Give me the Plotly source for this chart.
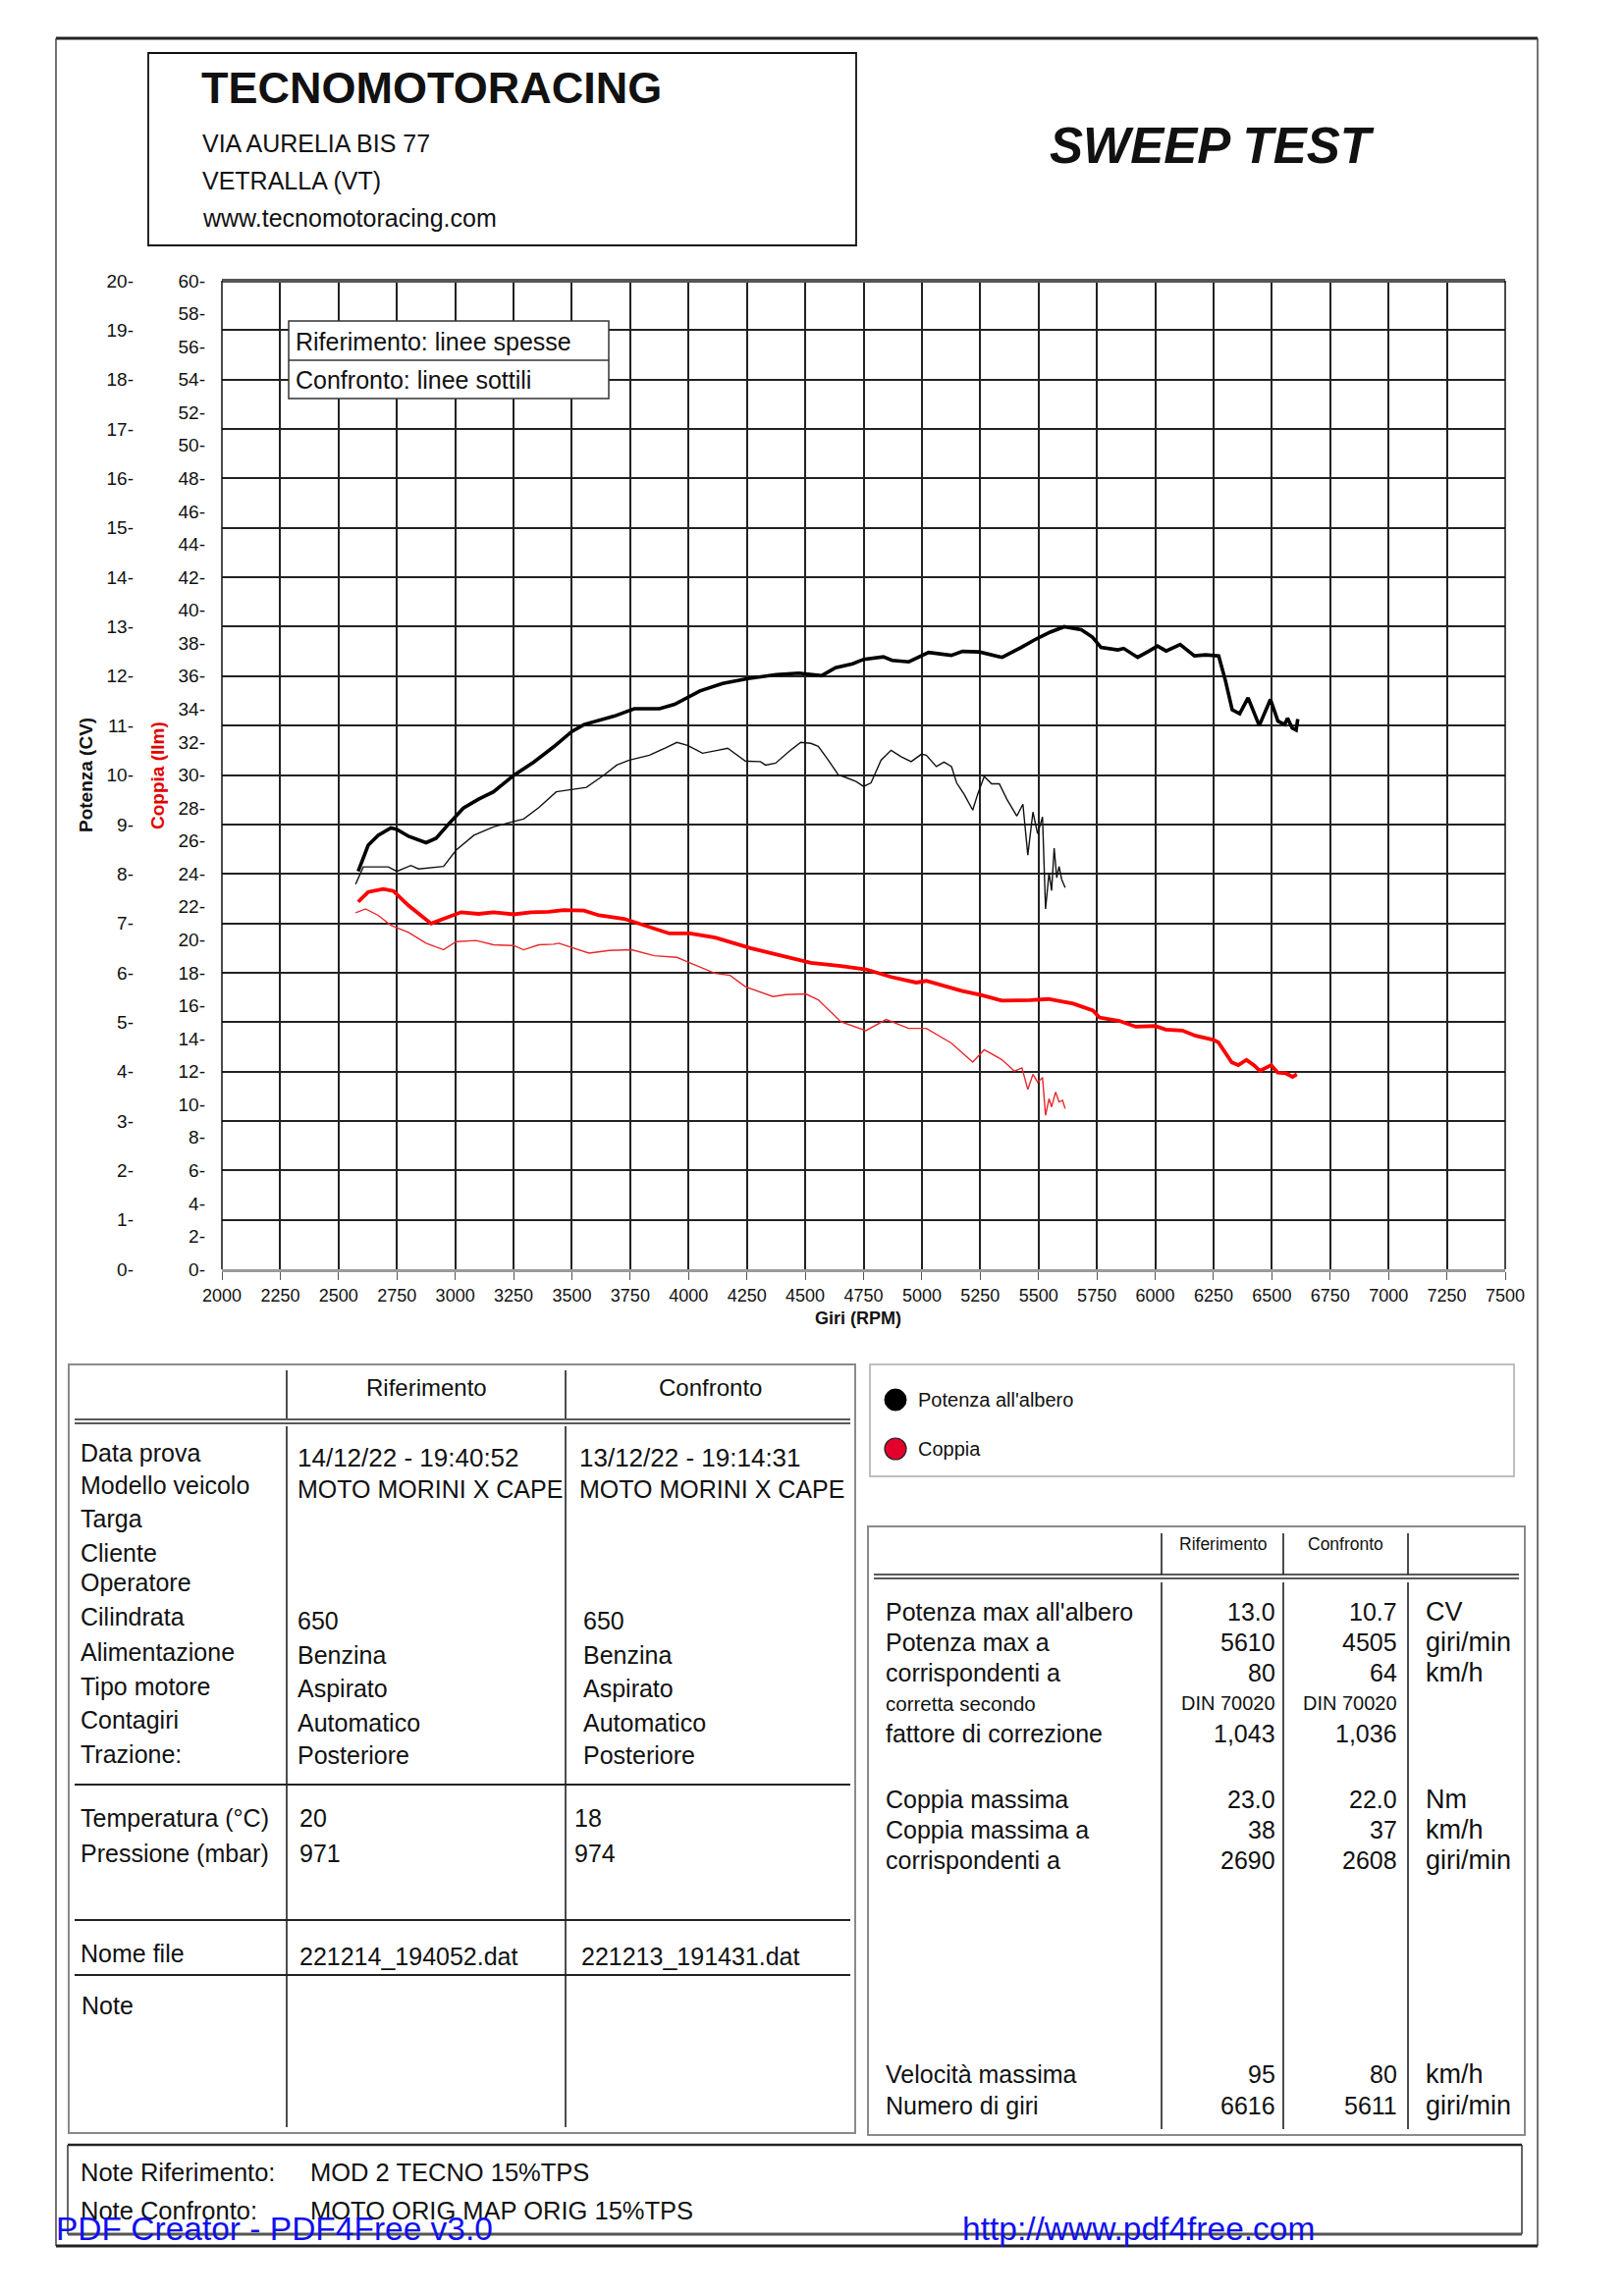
import plotly.graph_objects as go

OFF = 8  # browser body margin
W, H = 1654 - OFF, 2339 - OFF
FONT = "Liberation Sans, Arial, Helvetica, sans-serif"

# ---------------- chart data ----------------
rpm_ticks = list(range(2000, 7501, 250))
cv_ticks = list(range(0, 21))
nm_ticks = list(range(0, 61, 2))

# Riferimento (thick) - Potenza all'albero (CV)
rif_cv_rpm = [2584, 2627, 2670, 2724, 2750, 2800, 2875, 2918, 2972, 3035, 3100, 3164, 3250, 3336,
              3422, 3500, 3552, 3638, 3681, 3767, 3875, 3940, 4006, 4049, 4146, 4255, 4376, 4473,
              4570, 4630, 4703, 4751, 4835, 4872, 4944, 5029, 5126, 5174, 5247, 5344, 5429, 5489,
              5550, 5610, 5683, 5731, 5768, 5840, 5865, 5925, 5974, 6010, 6047, 6107, 6168, 6216,
              6272, 6301, 6330, 6362, 6398, 6446, 6494, 6526, 6555, 6567, 6587, 6604, 6611]
rif_cv = [8.05, 8.58, 8.78, 8.93, 8.90, 8.76, 8.63, 8.72, 9.01, 9.33, 9.51, 9.66, 9.99, 10.26,
          10.57, 10.88, 11.02, 11.13, 11.19, 11.34, 11.34, 11.43, 11.60, 11.70, 11.85, 11.95, 12.03, 12.06,
          12.01, 12.17, 12.25, 12.34, 12.39, 12.32, 12.29, 12.48, 12.42, 12.50, 12.49, 12.38, 12.59, 12.75,
          12.89, 13.00, 12.94, 12.79, 12.58, 12.53, 12.56, 12.38, 12.51, 12.61, 12.51, 12.64, 12.41, 12.43,
          12.41, 11.91, 11.32, 11.24, 11.56, 11.00, 11.53, 11.09, 11.02, 11.15, 10.95, 10.91, 11.13]

# Confronto (thin) - Potenza all'albero (CV)
conf_cv_rpm = [2573, 2606, 2713, 2750, 2810, 2843, 2950, 3004, 3080, 3164, 3250, 3293, 3358, 3433,
               3519, 3562, 3638, 3692, 3746, 3832, 3897, 3950, 3996, 4060, 4114, 4168, 4243, 4308,
               4330, 4373, 4437, 4481, 4524, 4556, 4599, 4642, 4674, 4718, 4750, 4782, 4825, 4868,
               4911, 4954, 4998, 5019, 5062, 5095, 5127, 5149, 5181, 5218, 5239, 5267, 5299, 5332,
               5364, 5407, 5433, 5454, 5476, 5496, 5517, 5530, 5545, 5556, 5567, 5578, 5588, 5599, 5614]
conf_cv = [7.79, 8.14, 8.14, 8.05, 8.17, 8.10, 8.15, 8.48, 8.78, 8.95, 9.06, 9.11, 9.34, 9.66,
           9.72, 9.75, 10.00, 10.20, 10.30, 10.40, 10.54, 10.66, 10.60, 10.44, 10.49, 10.54, 10.28, 10.27,
           10.20, 10.24, 10.50, 10.66, 10.64, 10.58, 10.30, 10.00, 9.95, 9.87, 9.77, 9.84, 10.30, 10.50,
           10.37, 10.27, 10.42, 10.40, 10.17, 10.26, 10.17, 9.84, 9.61, 9.29, 9.61, 9.97, 9.82, 9.82,
           9.51, 9.17, 9.41, 8.38, 9.25, 8.81, 9.15, 7.29, 8.02, 7.66, 8.52, 7.92, 8.15, 7.89, 7.72]

# Riferimento (thick) - Coppia
rif_nm_rpm = [2584, 2627, 2692, 2735, 2800, 2897, 2950, 3025, 3100, 3164, 3250, 3325, 3400, 3465,
              3552, 3616, 3724, 3810, 3918, 4006, 4114, 4265, 4394, 4524, 4653, 4760, 4868, 4976,
              5019, 5170, 5253, 5343, 5465, 5542, 5648, 5733, 5761, 5846, 5917, 6000, 6045, 6116,
              6173, 6250, 6271, 6328, 6356, 6391, 6426, 6448, 6497, 6525, 6560, 6589, 6607]
rif_nm = [22.30, 22.90, 23.08, 22.96, 22.07, 20.98, 21.27, 21.67, 21.57, 21.67, 21.54, 21.67, 21.70, 21.80,
          21.77, 21.48, 21.27, 20.88, 20.38, 20.38, 20.13, 19.49, 19.03, 18.60, 18.40, 18.20, 17.74, 17.40,
          17.50, 16.90, 16.65, 16.30, 16.33, 16.40, 16.12, 15.70, 15.28, 15.07, 14.72, 14.76, 14.55, 14.49,
          14.17, 13.92, 13.76, 12.56, 12.39, 12.71, 12.35, 12.04, 12.39, 11.93, 11.89, 11.68, 11.83]

# Confronto (thin) - Coppia
conf_nm_rpm = [2573, 2616, 2670, 2724, 2800, 2875, 2950, 3004, 3090, 3164, 3250, 3293, 3358, 3422,
               3444, 3508, 3573, 3660, 3756, 3853, 3950, 4006, 4114, 4178, 4243, 4362, 4416, 4502,
               4556, 4653, 4760, 4847, 4943, 5019, 5127, 5218, 5267, 5343, 5397, 5429, 5454, 5476,
               5496, 5517, 5530, 5545, 5556, 5573, 5588, 5603, 5614]
conf_nm = [21.64, 21.87, 21.48, 20.88, 20.44, 19.79, 19.39, 19.89, 19.95, 19.69, 19.65, 19.39, 19.69, 19.73,
           19.79, 19.49, 19.19, 19.35, 19.39, 19.03, 18.93, 18.60, 17.96, 17.84, 17.15, 16.55, 16.67, 16.71,
           16.35, 15.02, 14.48, 15.16, 14.62, 14.62, 13.72, 12.57, 13.32, 12.72, 12.02, 12.22, 10.91, 11.83,
           11.34, 11.64, 9.35, 10.35, 9.85, 10.75, 10.15, 10.25, 9.75]

# ---------------- table texts ----------------
header_lines = ["VIA AURELIA BIS 77", "VETRALLA (VT)", "www.tecnomotoracing.com"]
info_labels = ["Data prova", "Modello veicolo", "Targa", "Cliente", "Operatore", "Cilindrata",
               "Alimentazione", "Tipo motore", "Contagiri", "Trazione:"]
info_rif = ["14/12/22 - 19:40:52", "MOTO MORINI X CAPE", "", "", "", "650", "Benzina", "Aspirato",
            "Automatico", "Posteriore"]
info_conf = ["13/12/22 - 19:14:31", "MOTO MORINI X CAPE", "", "", "", "650", "Benzina", "Aspirato",
             "Automatico", "Posteriore"]
amb_labels = ["Temperatura (°C)", "Pressione (mbar)"]
amb_rif = ["20", "971"]
amb_conf = ["18", "974"]
file_rif = "221214_194052.dat"
file_conf = "221213_191431.dat"

perf_labels = ["Potenza max all'albero", "Potenza max a", "corrispondenti a", "corretta secondo",
               "fattore di correzione", "Coppia massima", "Coppia massima a", "corrispondenti a",
               "Velocità massima", "Numero di giri"]
perf_rif = ["13.0", "5610", "80", "DIN 70020", "1,043", "23.0", "38", "2690", "95", "6616"]
perf_conf = ["10.7", "4505", "64", "DIN 70020", "1,036", "22.0", "37", "2608", "80", "5611"]
perf_units = ["CV", "giri/min", "km/h", "", "", "Nm", "km/h", "giri/min", "km/h", "giri/min"]

note_rif = "MOD 2 TECNO 15%TPS"
note_conf = "MOTO ORIG MAP ORIG 15%TPS"

# ---------------- helpers (page pixel -> paper) ----------------
def X(px):
    return (px - OFF) / W


def Y(py):
    return 1 - (py - OFF) / H


shapes = []
annotations = []


def line(x0, y0, x1, y1, color="#111", width=1.5):
    shapes.append(dict(type="line", xref="paper", yref="paper", x0=X(x0), y0=Y(y0), x1=X(x1), y1=Y(y1),
                       line=dict(color=color, width=width), layer="above"))


def rect(x0, y0, x1, y1, color="#111", width=1.5, fill=None):
    d = dict(type="rect", xref="paper", yref="paper", x0=X(x0), y0=Y(y0), x1=X(x1), y1=Y(y1),
             line=dict(color=color, width=width), layer="above")
    if fill:
        d["fillcolor"] = fill
    shapes.append(d)


def text(x, y, s, size=24, anchor="left", color="#111", bold=False, italic=False, angle=0):
    if bold:
        s = "<b>" + s + "</b>"
    if italic:
        s = "<i>" + s + "</i>"
    annotations.append(dict(xref="paper", yref="paper", x=X(x), y=Y(y), text=s, showarrow=False,
                            xanchor=anchor, yanchor="middle", textangle=angle,
                            font=dict(family=FONT, size=size, color=color), borderpad=0))


# ---------------- traces ----------------
fig = go.Figure()
fig.add_trace(go.Scatter(x=conf_cv_rpm, y=conf_cv, mode="lines", yaxis="y",
                         line=dict(color="#111", width=1.4), showlegend=False, hoverinfo="skip"))
fig.add_trace(go.Scatter(x=rif_cv_rpm, y=rif_cv, mode="lines", yaxis="y3",
                         line=dict(color="#000", width=3.6), showlegend=False, hoverinfo="skip"))
fig.add_trace(go.Scatter(x=conf_nm_rpm, y=conf_nm, mode="lines", yaxis="y2",
                         line=dict(color="#e8272b", width=1.4), showlegend=False, hoverinfo="skip"))
fig.add_trace(go.Scatter(x=rif_nm_rpm, y=rif_nm, mode="lines", yaxis="y2",
                         line=dict(color="#ff0000", width=3.8), showlegend=False, hoverinfo="skip"))

PL, PR, PT, PB = 226, 1533, 286, 1293
ydom = [Y(PB), Y(PT)]

# ---------------- page frame & header ----------------
line(57, 39, 1566, 39, "#222", 3)
line(57, 39, 57, 2288, "#444", 1.5)
line(1566, 39, 1566, 2288, "#444", 1.5)
line(57, 2288, 1566, 2288, "#222", 3)

rect(151, 54, 872, 250, "#111", 1.8)
text(204, 89, "TECNOMOTORACING", 45, bold=True)
for i, s in enumerate(header_lines):
    text(205, [146, 184, 222][i], s, 25)
text(1068, 149, "SWEEP TEST", 51, bold=True, italic=True)

# ---------------- plot frame, legend box, titles ----------------
line(PL, PT, PR, PT, "#555", 4)
line(PL, PT, PL, PB, "#111", 1.5)
line(PR, PT, PR, PB, "#111", 1.5)

rect(294, 327, 620, 406, "#333", 1.5, fill="white")
line(294, 367, 620, 367, "#333", 1.5)
text(300, 348, "Riferimento: linee spesse", 25)
text(300, 387, "Confronto: linee sottili", 25)

text(87, 790, "Potenza (CV)", 19, anchor="center", bold=True, angle=-90)
text(160, 790, "Coppia (Ilm)", 19, anchor="center", bold=True, angle=-90, color="#e00000")
text(874, 1343, "Giri (RPM)", 18, anchor="center", bold=True)

# ---------------- left info table ----------------
rect(70, 1390, 871, 2173, "#8a8a8a", 2)
line(292, 1396, 292, 1445)
line(576, 1396, 576, 1445)
line(76, 1446, 866, 1446, "#222", 1.5)
line(76, 1450, 866, 1450, "#222", 1.5)
line(292, 1453, 292, 2167)
line(576, 1453, 576, 2167)
line(76, 1818, 866, 1818, "#222", 2)
line(76, 1956, 866, 1956, "#222", 2)
line(76, 2012, 866, 2012, "#222", 2)
text(434, 1413, "Riferimento", 24, anchor="center")
text(723, 1413, "Confronto", 24, anchor="center")

label_y = [1480, 1513, 1547, 1582, 1612, 1647, 1683, 1718, 1752, 1787]
value_y = [1485, 1517, 1549, 1584, 1616, 1651, 1686, 1720, 1755, 1788]
for i in range(len(info_labels)):
    text(81, label_y[i], info_labels[i], 25)
    sz = 26 if i == 0 else 25
    if info_rif[i]:
        text(302, value_y[i], info_rif[i], sz)
    if info_conf[i]:
        text(589 if i < 2 else 593, value_y[i], info_conf[i], sz)
for i in range(len(amb_labels)):
    yy = [1852, 1888][i]
    text(81, yy, amb_labels[i], 25)
    text(304, yy, amb_rif[i], 25)
    text(584, yy, amb_conf[i], 25)
text(81, 1990, "Nome file", 25)
text(304, 1993, file_rif, 25)
text(591, 1993, file_conf, 25)
text(82, 2043, "Note", 25)

# ---------------- right legend ----------------
rect(886, 1390, 1542, 1504, "#aaa", 1.5)
r = 11
shapes.append(dict(type="circle", xref="paper", yref="paper", x0=X(912 - r), x1=X(912 + r),
                   y0=Y(1426 + r), y1=Y(1426 - r), fillcolor="#000", line=dict(color="#000", width=1)))
shapes.append(dict(type="circle", xref="paper", yref="paper", x0=X(912 - r), x1=X(912 + r),
                   y0=Y(1476 + r), y1=Y(1476 - r), fillcolor="#e4002b", line=dict(color="#222", width=1.2)))
text(934, 1426, "Potenza all'albero", 20)
text(934, 1476, "Coppia", 20)

# ---------------- right performance table ----------------
rect(884, 1555, 1553, 2175, "#8a8a8a", 2)
for xx in (1183, 1307, 1434):
    line(xx, 1562, xx, 1604)
    line(xx, 1612, xx, 2169)
line(890, 1604, 1547, 1604, "#222", 1.5)
line(890, 1608, 1547, 1608, "#222", 1.5)
text(1245, 1573, "Riferimento", 17.5, anchor="center")
text(1370, 1573, "Confronto", 17.5, anchor="center")

perf_y = [1642, 1673, 1704, 1735, 1766, 1833, 1864, 1895, 2113, 2145]
for i in range(len(perf_labels)):
    small = perf_labels[i] == "corretta secondo"
    sz = 20.5 if small else 25
    text(901, perf_y[i], perf_labels[i], sz)
    text(1300, perf_y[i], perf_rif[i], 20 if small else sz, anchor="right")
    text(1424, perf_y[i], perf_conf[i], 20 if small else sz, anchor="right")
    if perf_units[i]:
        text(1451, perf_y[i], perf_units[i], 27)

# ---------------- notes box ----------------
line(69, 2185, 1550, 2185, "#222", 2.5)
line(69, 2185, 69, 2276, "#333", 1.5)
line(1550, 2185, 1550, 2276, "#333", 1.5)
line(69, 2276, 1550, 2276, "#555", 3)
text(81, 2213, "Note Riferimento:", 25.5)
text(315, 2213, note_rif, 25.5)
text(81, 2252, "Note Confronto:", 25.5)
text(315, 2252, note_conf, 25.5)

# watermark
text(56, 2270, "PDF Creator - PDF4Free v3.0", 33.5, color="#1010ee")
text(979, 2270, "http://www.pdf4free.com", 33.5, color="#1010ee")

# ---------------- layout ----------------
tickfont = dict(family=FONT, size=18, color="#111")
ytickfont = dict(family=FONT, size=19, color="#111")
fig.update_layout(
    template="none",
    width=W, height=H,
    margin=dict(l=0, r=0, t=0, b=0),
    paper_bgcolor="white", plot_bgcolor="white",
    showlegend=False,
    xaxis=dict(domain=[X(PL), X(PR)], range=[2000, 7500], tickmode="array", tickvals=rpm_ticks,
               ticktext=[str(v) for v in rpm_ticks], showgrid=True, gridcolor="#222", gridwidth=1.5,
               zeroline=False, showline=True, linecolor="#9a9a9a", linewidth=3, ticks="outside",
               ticklen=8, tickwidth=1, tickcolor="#555", tickfont=tickfont, automargin=False,
               fixedrange=True),
    yaxis=dict(domain=ydom, range=[0, 20], tickmode="array", tickvals=cv_ticks, showgrid=True,
               gridcolor="#222", gridwidth=1.5, zeroline=False, showline=False, showticklabels=False,
               ticks="", anchor="x", automargin=False),
    yaxis2=dict(overlaying="y", anchor="x", side="left", range=[0, 60], tickmode="array",
                tickvals=nm_ticks, ticktext=[f"{v}-" for v in nm_ticks], showgrid=False, zeroline=False,
                showline=False, ticks="", tickfont=ytickfont, ticklabelstandoff=16, automargin=False),
    yaxis3=dict(overlaying="y", anchor="free", position=X(136), side="left", range=[0, 20],
                tickmode="array", tickvals=cv_ticks, ticktext=[f"{v}-" for v in cv_ticks],
                showgrid=False, zeroline=False, showline=False, ticks="", tickfont=ytickfont,
                automargin=False),
    shapes=shapes,
    annotations=annotations,
)

fig.write_html("out.html")
